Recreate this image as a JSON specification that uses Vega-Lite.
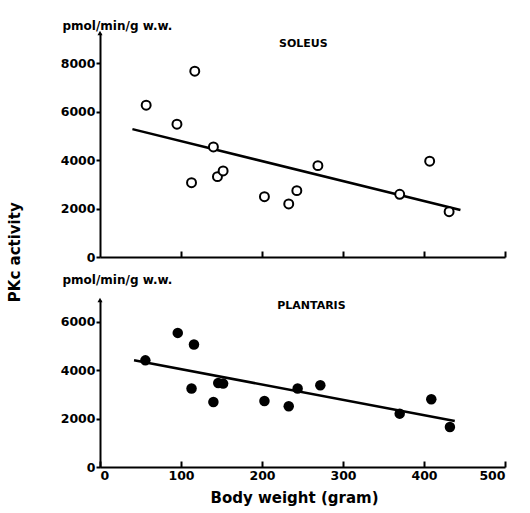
{
  "$schema": "https://vega.github.io/schema/vega-lite/v6.json",
  "padding": {"left": 8, "top": 19, "right": 5, "bottom": 5},
  "background": "white",
  "config": {
    "font": "DejaVu Sans",
    "view": {"stroke": null},
    "axis": {
      "grid": false,
      "domainColor": "black",
      "domainWidth": 2,
      "tickColor": "black",
      "tickWidth": 2,
      "labelColor": "black",
      "labelFont": "DejaVu Sans",
      "labelFontWeight": "bold",
      "labelFontSize": 12.5,
      "titleColor": "black",
      "titleFont": "DejaVu Sans"
    }
  },
  "title": {
    "text": "PKc activity",
    "orient": "left",
    "anchor": "middle",
    "fontSize": 15,
    "fontWeight": "bold",
    "color": "black",
    "offset": 37,
    "dx": 10
  },
  "spacing": 9,
  "datasets": {
    "soleus": [
      {"weight": 57, "pk": 6269}, {"weight": 95, "pk": 5483}, {"weight": 117, "pk": 7674},
      {"weight": 113, "pk": 3070}, {"weight": 140, "pk": 4545}, {"weight": 145, "pk": 3318},
      {"weight": 152, "pk": 3554}, {"weight": 203, "pk": 2492}, {"weight": 233, "pk": 2190},
      {"weight": 243, "pk": 2740}, {"weight": 269, "pk": 3773}, {"weight": 370, "pk": 2591},
      {"weight": 407, "pk": 3955}, {"weight": 431, "pk": 1872}
    ],
    "soleusFit": [{"weight": 40, "pk": 5280}, {"weight": 445, "pk": 1940}],
    "plantaris": [
      {"weight": 56, "pk": 4407}, {"weight": 96, "pk": 5540}, {"weight": 116, "pk": 5060},
      {"weight": 113, "pk": 3240}, {"weight": 140, "pk": 2685}, {"weight": 146, "pk": 3471},
      {"weight": 152, "pk": 3446}, {"weight": 203, "pk": 2727}, {"weight": 233, "pk": 2507},
      {"weight": 244, "pk": 3240}, {"weight": 272, "pk": 3376}, {"weight": 370, "pk": 2205},
      {"weight": 409, "pk": 2797}, {"weight": 432, "pk": 1651}
    ],
    "plantarisFit": [{"weight": 42, "pk": 4410}, {"weight": 438, "pk": 1900}]
  },
  "vconcat": [
    {
      "width": 405,
      "height": 224,
      "layer": [
        {"data": {"name": "soleusFit"}, "mark": {"type": "line", "color": "black", "strokeWidth": 2.5},
         "encoding": {
           "x": {"field": "weight", "type": "quantitative", "scale": {"domain": [0, 500], "nice": false},
                 "axis": {"labels": false, "title": null, "values": [100, 200, 300, 400, 500], "tickSize": -6}},
           "y": {"field": "pk", "type": "quantitative", "scale": {"domain": [0, 9250], "nice": false},
                 "axis": {"values": [0, 2000, 4000, 6000, 8000], "format": "d", "tickSize": 4, "labelPadding": 1,
                          "title": "pmol/min/g w.w.", "titleAngle": 0, "titleAlign": "left", "titleBaseline": "alphabetic",
                          "titleX": -38, "titleY": -4, "titleFontSize": 12, "titleFontWeight": "bold"}}
         }},
        {"data": {"name": "soleus"}, "mark": {"type": "point", "shape": "circle", "filled": true, "fill": "white", "stroke": "black", "strokeWidth": 2, "size": 80, "opacity": 1},
         "encoding": {"x": {"field": "weight", "type": "quantitative", "scale": {"domain": [0, 500], "nice": false}},
                      "y": {"field": "pk", "type": "quantitative", "scale": {"domain": [0, 9250], "nice": false}}}},
        {"data": {"values": [{"a": 1}]}, "mark": {"type": "point", "shape": "triangle-up", "filled": true, "color": "black", "size": 25, "opacity": 1},
         "encoding": {"x": {"datum": 0, "scale": {"domain": [0, 500], "nice": false}}, "y": {"datum": 9250, "scale": {"domain": [0, 9250], "nice": false}}}},
        {"data": {"values": [{"a": 1}]}, "mark": {"type": "text", "text": "SOLEUS", "font": "DejaVu Sans", "fontSize": 11, "fontWeight": "bold", "color": "black", "baseline": "middle", "align": "center"},
         "encoding": {"x": {"datum": 251, "scale": {"domain": [0, 500], "nice": false}}, "y": {"datum": 8800, "scale": {"domain": [0, 9250], "nice": false}}}}
      ]
    },
    {
      "width": 405,
      "height": 167,
      "layer": [
        {"data": {"name": "plantarisFit"}, "mark": {"type": "line", "color": "black", "strokeWidth": 2.5},
         "encoding": {
           "x": {"field": "weight", "type": "quantitative", "scale": {"domain": [0, 500], "nice": false},
                 "axis": {"values": [0, 100, 200, 300, 400, 500], "tickSize": -6, "labelPadding": 8,
                          "title": "Body weight (gram)", "titleFontSize": 15, "titleFontWeight": "bold", "titlePadding": 9, "titleX": 194}},
           "y": {"field": "pk", "type": "quantitative", "scale": {"domain": [0, 6900], "nice": false},
                 "axis": {"values": [0, 2000, 4000, 6000], "format": "d", "tickSize": 4, "labelPadding": 1,
                          "title": "pmol/min/g w.w.", "titleAngle": 0, "titleAlign": "left", "titleBaseline": "alphabetic",
                          "titleX": -38, "titleY": -17, "titleFontSize": 12, "titleFontWeight": "bold"}}
         }},
        {"data": {"name": "plantaris"}, "mark": {"type": "point", "shape": "circle", "filled": true, "color": "black", "size": 110, "opacity": 1},
         "encoding": {"x": {"field": "weight", "type": "quantitative", "scale": {"domain": [0, 500], "nice": false}},
                      "y": {"field": "pk", "type": "quantitative", "scale": {"domain": [0, 6900], "nice": false}}}},
        {"data": {"values": [{"a": 1}]}, "mark": {"type": "point", "shape": "triangle-up", "filled": true, "color": "black", "size": 25, "opacity": 1},
         "encoding": {"x": {"datum": 0, "scale": {"domain": [0, 500], "nice": false}}, "y": {"datum": 6900, "scale": {"domain": [0, 6900], "nice": false}}}},
        {"data": {"values": [{"a": 1}]}, "mark": {"type": "text", "text": "PLANTARIS", "font": "DejaVu Sans", "fontSize": 11, "fontWeight": "bold", "color": "black", "baseline": "middle", "align": "center"},
         "encoding": {"x": {"datum": 261, "scale": {"domain": [0, 500], "nice": false}}, "y": {"datum": 6657, "scale": {"domain": [0, 6900], "nice": false}}}}
      ]
    }
  ]
}
